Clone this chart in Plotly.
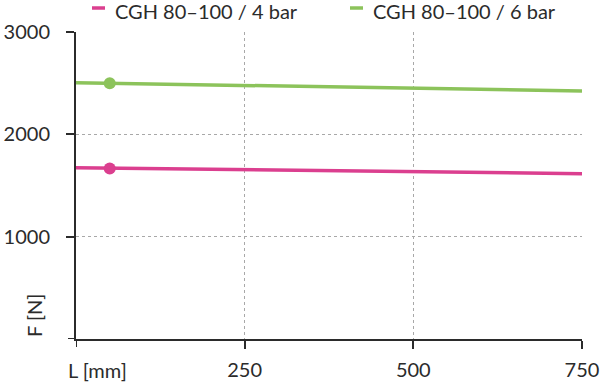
import plotly.graph_objects as go

length_mm = [0, 750]
force_4bar = [1674, 1615]
force_6bar = [2505, 2423]
marker_x = [50]
marker_4bar = [1667]
marker_6bar = [2500]
series_names = ["CGH 80–100 / 4 bar", "CGH 80–100 / 6 bar"]
x_ticks = [250, 500, 750]
y_ticks = [1000, 2000, 3000]

pink = "#db3f8f"
green = "#8cc35b"
txt = "#2b2b2b"
font = "Lato"
fs = 20

W, H = 600, 383
L, R, T, B = 76, 18, 32, 44
PW, PH = W - L - R, H - T - B

def px(x):
    return (x - L) / PW

def py(y):
    return (H - B - y) / PH

fig = go.Figure()
colors = [pink, green]
for ys, ms, col, name in zip([force_4bar, force_6bar], [marker_4bar, marker_6bar], colors, series_names):
    fig.add_trace(go.Scatter(x=length_mm, y=ys, mode="lines", name=name,
                             line=dict(color=col, width=3.5), showlegend=False,
                             cliponaxis=False))
    fig.add_trace(go.Scatter(x=marker_x, y=ms, mode="markers", name=name,
                             marker=dict(color=col, size=12), showlegend=False,
                             cliponaxis=False))

grid = dict(showgrid=True, gridcolor="#a8a8a8", griddash="3px,3px", gridwidth=1,
            showline=True, linecolor=txt, linewidth=2,
            ticks="outside", ticklen=8, tickwidth=2, tickcolor=txt,
            zeroline=False, automargin=False, tickfont=dict(size=fs, color=txt, family=font))

fig.update_layout(
    width=W, height=H,
    margin=dict(l=L, r=R, t=T, b=B, autoexpand=False),
    paper_bgcolor="white", plot_bgcolor="white",
    font=dict(family=font, size=fs, color=txt),
    showlegend=False,
    xaxis=dict(range=[0, 750], tickvals=x_ticks, ticktext=[str(v) for v in x_ticks],
               ticklabelstandoff=4, ticklabeloverflow="allow", **grid),
    yaxis=dict(range=[0, 3000], tickvals=y_ticks, ticktext=[str(v) for v in y_ticks],
               ticklabelstandoff=12, **grid),
)
# legend drawn as shapes + text
for (dx, tx), name, col in zip([(92, 113), (350, 371)], series_names, colors):
    fig.add_shape(type="line", xref="paper", yref="paper", x0=px(dx), x1=px(dx + 13),
                  y0=py(8), y1=py(8), line=dict(color=col, width=3.5))
    fig.add_annotation(text=name, xref="paper", yref="paper", x=px(tx), y=py(11),
                       xanchor="left", yanchor="middle", showarrow=False,
                       font=dict(size=fs, color=txt, family=font))
# tick marks at 0 for both axes
fig.add_shape(type="line", xref="x", yref="paper", x0=0, x1=0, y0=0, y1=-8/PH,
              line=dict(color=txt, width=2))
fig.add_shape(type="line", xref="paper", yref="y", x0=0, x1=-8/PW, y0=0, y1=0,
              line=dict(color=txt, width=2))
fig.add_annotation(text="L [mm]", xref="paper", yref="paper", x=px(66), y=py(370),
                   xanchor="left", yanchor="middle", showarrow=False,
                   font=dict(size=fs, color=txt, family=font))
fig.add_annotation(text="F [N]", xref="paper", yref="paper", x=px(34), y=py(316),
                   xanchor="center", yanchor="middle", textangle=-90, showarrow=False,
                   font=dict(size=fs, color=txt, family=font))
fig.write_html("out.html")
